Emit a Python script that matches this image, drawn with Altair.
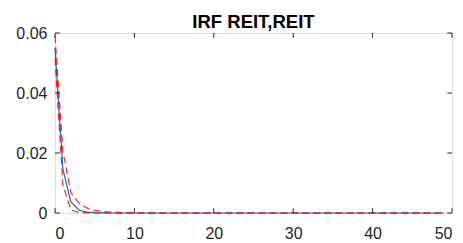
import altair as alt
import pandas as pd

# Impulse response (periods 0..49)
periods = list(range(50))
irf_mid = [0.0550, 0.0145, 0.0037, 0.0010, 0.0003, 0.0001, 0.00003] + [0.0] * 43
irf_upper = [0.0590, 0.0207, 0.0068, 0.0033, 0.0017, 0.0009, 0.0005, 0.0003, 0.0002, 0.0001] + [0.0] * 40
irf_lower = [0.0515, 0.0093, 0.0010, 0.0002, 0.0001] + [0.0] * 45

x_ticks = [0, 10, 20, 30, 40, 50]
y_ticks = [0, 0.02, 0.04, 0.06]

title_text = "IRF REIT,REIT"

X0, X1, Y0, Y1 = 0, 50, 0.0, 0.06
TL_X = 0.6       # inward tick length in x data units (~5px)
TL_Y = 0.0016    # inward tick length in y data units (~5px)

df = pd.DataFrame({"t": periods, "mid": irf_mid, "upper": irf_upper, "lower": irf_lower})

# tick segments (inward), built from tick values
seg = []
for v in x_ticks:
    seg.append({"x": v, "x2": v, "y": Y0, "y2": Y0 + TL_Y})
    seg.append({"x": v, "x2": v, "y": Y1, "y2": Y1 - TL_Y})
for v in y_ticks:
    seg.append({"x": X0, "x2": X0 + TL_X, "y": v, "y2": v})
    seg.append({"x": X1, "x2": X1 - TL_X, "y": v, "y2": v})
ticks_df = pd.DataFrame(seg)

FONT = "Liberation Sans"
TXT = "#262626"

xscale = alt.Scale(domain=[X0, X1], nice=False, zero=False)
yscale = alt.Scale(domain=[Y0, Y1], nice=False, zero=False)

xaxis = alt.Axis(values=x_ticks, format="d", domain=False, ticks=False, grid=False,
                 labelFont=FONT, labelFontSize=16, labelColor=TXT, labelPadding=12, title=None)
yaxis = alt.Axis(values=y_ticks, format=".2~f", domain=False, ticks=False, grid=False,
                 labelFont=FONT, labelFontSize=16, labelColor=TXT, labelPadding=8, title=None)

base = alt.Chart(df)

blue = base.mark_line(color="#0072BD", strokeWidth=1.2).encode(
    x=alt.X("t:Q", scale=xscale, axis=xaxis),
    y=alt.Y("mid:Q", scale=yscale, axis=yaxis),
)
red_up = base.mark_line(color="#FF0000", strokeWidth=1.2, strokeDash=[7, 4], opacity=0.85).encode(
    x=alt.X("t:Q", scale=xscale), y=alt.Y("upper:Q", scale=yscale)
)
red_lo = base.mark_line(color="#FF0000", strokeWidth=1.2, strokeDash=[7, 4], opacity=0.85).encode(
    x=alt.X("t:Q", scale=xscale), y=alt.Y("lower:Q", scale=yscale)
)

ticks = alt.Chart(ticks_df).mark_rule(color=TXT, strokeWidth=1).encode(
    x=alt.X("x:Q", scale=xscale), x2="x2:Q",
    y=alt.Y("y:Q", scale=yscale), y2="y2:Q",
)

chart = alt.layer(blue, red_up, red_lo, ticks).properties(
    width=397, height=180,
    title=alt.TitleParams(title_text, font=FONT, fontSize=18.5, fontWeight="bold", color="#000000",
                          anchor="middle", offset=5, dy=11),
    autosize=alt.AutoSizeParams(type="none"),
    padding={"left": 47, "top": 25, "right": 3, "bottom": 27},
).configure_view(stroke=TXT, strokeWidth=1).configure(background="white")

chart.save("out.html", embed_options={"renderer": "svg", "actions": False})
